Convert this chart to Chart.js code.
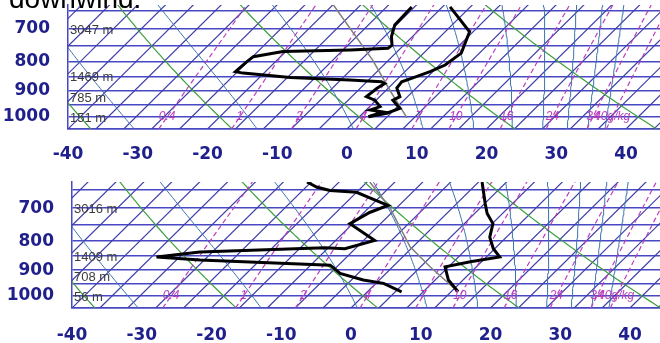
<!DOCTYPE html>
<html>
<head>
<meta charset="utf-8">
<script src="https://cdn.jsdelivr.net/npm/chart.js@4.4.1/dist/chart.umd.min.js"></script>
<style>
  body { margin: 0; background: #fff; width: 660px; height: 343px; overflow: hidden; position: relative; }
  .caption { position: absolute; left: 9px; top: -15px; font: 28px/28px "Liberation Sans", Arial, sans-serif; color: #000; z-index: 2; }
  canvas { position: absolute; left: 0; }
  #topChart { top: 0; }
  #bottomChart { top: 170px; }
</style>
</head>
<body>
<div class="caption">downwind.</div>
<canvas id="topChart" width="660" height="170"></canvas>
<canvas id="bottomChart" width="660" height="173"></canvas>
<script>
// Skew-T log-p diagrams, two soundings stacked

// axes
const T_TICKS = [-40, -30, -20, -10, 0, 10, 20, 30, 40];
const P_GRID = [650, 700, 750, 800, 850, 900, 950, 1000, 1050];
const P_LABELS = [700, 800, 900, 1000];

// background lines
const ISOTHERMS = [-56, -52, -48, -44, -40, -36, -32, -28, -24, -20, -16, -12, -8, -4, 0, 4, 8, 12, 16, 20, 24, 28, 32, 36, 40, 44];
const DRY_ADIABATS = [-40, -20, 0, 20, 40];                                   // theta, degC
const MOIST_ADIABATS = [240, 260, 280, 300, 320, 340, 360, 380, 400, 420];     // theta-e, K
const MIX_RATIOS = [0.4, 1, 2, 4, 7, 10, 16, 24, 34, 40];                      // g/kg
const MIX_LABELS = ['0.4', '1', '2', '4', '7', '10', '16', '24', '34', '40g/kg'];

// heights of standard levels
const HEIGHT_LEVELS = [700, 850, 925, 1000];
const TOP_HEIGHTS = ['3047 m', '1469 m', '785 m', '151 m'];
const BOTTOM_HEIGHTS = ['3016 m', '1409 m', '708 m', '56 m'];

// upper sounding
const TOP_TEMP_P = [640, 708, 741, 772, 810, 832, 855, 867, 889, 921, 934, 966, 985, 999];
const TOP_TEMP = [-2.9, 3.5, 4.5, 5.4, 4.8, 3.6, 1.9, 1.0, 1.2, 2.9, 2.4, 4.6, 3.4, 1.3];
const TOP_DEW_P = [640, 689, 722, 747, 757, 762, 767, 783, 799, 832, 837, 852, 861, 867, 873, 890, 921, 934, 959, 972, 980, 999];
const TOP_DEW = [-8.4, -8.2, -7.0, -5.7, -5.8, -11.0, -20.4, -23.9, -24.1, -24.3, -23.0, -15.6, -6.7, -1.9, -1.2, -1.6, -1.9, -0.2, 1.5, 0.6, 2.7, 1.3];
const TOP_PARCEL_P = [635, 794, 900, 1004];
const TOP_PARCEL = [-19.9, -6.3, 0.7, 7.0];

// lower sounding
const BOT_TEMP_P = [629, 651, 687, 715, 745, 787, 825, 853, 870, 888, 937, 983];
const BOT_TEMP = [0.5, 1.9, 4.1, 5.8, 8.1, 9.6, 11.8, 13.9, 10.4, 7.5, 9.9, 13.0];
const BOT_DEW_P = [629, 642, 651, 656, 692, 712, 745, 798, 825, 822, 836, 853, 864, 882, 912, 937, 950, 983];
const BOT_DEW = [-24.6, -22.5, -20.1, -16.0, -9.6, -11.2, -12.4, -6.4, -9.5, -12.5, -29.8, -35.3, -28.6, -9.2, -6.6, -2.3, 1.1, 4.9];
const BOT_PARCEL_P = [629, 697, 819, 888, 983];
const BOT_PARCEL = [-15.6, -9.1, -0.4, 5.35, 13.0];

const SKEW = 35.7;
const P_BASE = 1050;

const ISOBAR_COLOR = '#4848c4';
const ISOTHERM_COLOR = '#3e3eaa';
const DRY_COLOR = '#3f9f3f';
const MOIST_COLOR = '#3a72b0';
const MIX_COLOR = '#bb3fbb';
const TICK_COLOR = '#20208c';
const TICK_FONT = { family: '"DejaVu Sans", sans-serif', size: 17, weight: 'bold' };

function skewX(t, p) {
  return t + SKEW * Math.log(P_BASE / p);
}

function satVap(tc) {
  return 6.112 * Math.exp(17.67 * tc / (tc + 243.5));
}

function thetaE(tk, p) {
  const es = satVap(tk - 273.15);
  const rs = 0.622 * es / (p - es);
  return tk * Math.pow(1000 / p, 0.2857) * Math.exp(2.5e6 * rs / (1005 * tk));
}

function dewFromMix(r, p) {
  const e = r * p / (622 + r);
  const a = Math.log(e / 6.112);
  return 243.5 * a / (17.67 - a);
}

// pressure samples for curved background lines
const levels = [];
for (let p = 1050; p >= 580; p -= 10) levels.push(p);

function line(points, color, width, dash) {
  return {
    data: points,
    borderColor: color,
    borderWidth: width,
    borderDash: dash || [],
    pointRadius: 0,
    showLine: true,
    fill: false,
    tension: 0
  };
}

function profile(pres, temps) {
  return pres.map((p, i) => ({ x: skewX(temps[i], p), y: p }));
}

function backgroundLines() {
  const sets = [];
  MIX_RATIOS.forEach(r => {
    sets.push(line(levels.map(p => ({ x: skewX(dewFromMix(r, p), p), y: p })), MIX_COLOR, 1.2, [5, 3]));
  });
  MOIST_ADIABATS.forEach(te => {
    const pts = levels.map(p => {
      let lo = 150, hi = 318;
      for (let k = 0; k < 40; k++) {
        const mid = (lo + hi) / 2;
        if (thetaE(mid, p) > te) hi = mid; else lo = mid;
      }
      return { x: skewX(lo - 273.15, p), y: p };
    });
    sets.push(line(pts, MOIST_COLOR, 1));
  });
  DRY_ADIABATS.forEach(th => {
    const pts = levels.map(p => ({ x: skewX((th + 273.15) * Math.pow(p / 1000, 0.2857) - 273.15, p), y: p }));
    sets.push(line(pts, DRY_COLOR, 1.2));
  });
  ISOTHERMS.forEach(t => {
    sets.push(line([{ x: skewX(t, 1050), y: 1050 }, { x: skewX(t, 580), y: 580 }], ISOTHERM_COLOR, 1.2));
  });
  return sets;
}

// mixing ratio labels and level heights
const labelPlugin = {
  id: 'skewLabels',
  afterDatasetsDraw(chart, args, opts) {
    const { ctx, chartArea } = chart;
    const x = chart.scales.x, y = chart.scales.y;
    ctx.save();
    ctx.beginPath();
    ctx.rect(chartArea.left, chartArea.top, chartArea.width, chartArea.height);
    ctx.clip();
    ctx.font = 'italic 12px "Liberation Sans", Arial, sans-serif';
    ctx.fillStyle = MIX_COLOR;
    ctx.textAlign = 'center';
    ctx.textBaseline = 'middle';
    MIX_RATIOS.forEach((r, i) => {
      ctx.fillText(MIX_LABELS[i], x.getPixelForValue(skewX(dewFromMix(r, 1000), 1000)), y.getPixelForValue(1000));
    });
    ctx.font = '13px "Liberation Sans", Arial, sans-serif';
    ctx.fillStyle = '#3c3c3c';
    ctx.textAlign = 'left';
    HEIGHT_LEVELS.forEach((p, i) => {
      ctx.fillText(opts.heights[i], chartArea.left + 2, y.getPixelForValue(p) + 1);
    });
    ctx.restore();
  }
};

function noPad(s) {
  s.paddingTop = 0;
  s.paddingBottom = 0;
  s.paddingLeft = 0;
  s.paddingRight = 0;
}

function makeChart(id, cfg) {
  const datasets = [
    line(profile(cfg.tempP, cfg.temp), '#000', 3),
    line(profile(cfg.dewP, cfg.dew), '#000', 3),
    line(profile(cfg.parcelP, cfg.parcel), '#808080', 1.5)
  ].concat(backgroundLines());

  return new Chart(document.getElementById(id), {
    type: 'scatter',
    data: { datasets: datasets },
    plugins: [labelPlugin],
    options: {
      responsive: false,
      animation: false,
      layout: { padding: { top: cfg.padTop, right: 0, bottom: 0, left: 0 } },
      plugins: {
        legend: { display: false },
        tooltip: { enabled: false },
        skewLabels: { heights: cfg.heights }
      },
      scales: {
        x: {
          type: 'linear',
          min: -40,
          max: cfg.xMax,
          afterBuildTicks: s => { s.ticks = T_TICKS.map(v => ({ value: v })); },
          afterFit: s => { s.height = cfg.xAxisH; noPad(s); },
          grid: { display: false, drawTicks: false },
          border: { display: true, color: ISOBAR_COLOR, width: 1.5 },
          ticks: { padding: cfg.xPad, color: TICK_COLOR, font: TICK_FONT, maxRotation: 0, autoSkip: false }
        },
        y: {
          type: 'logarithmic',
          reverse: true,
          min: cfg.pTop,
          max: 1050,
          afterBuildTicks: s => { s.ticks = P_GRID.map(v => ({ value: v })); },
          afterFit: s => { s.width = cfg.yAxisW; noPad(s); },
          grid: { color: ISOBAR_COLOR, lineWidth: 1.6, drawTicks: false },
          border: { display: true, color: ISOBAR_COLOR, width: 1.5 },
          ticks: {
            padding: 18,
            color: TICK_COLOR,
            font: TICK_FONT,
            autoSkip: false,
            callback: v => P_LABELS.includes(v) ? String(v) : ''
          }
        }
      }
    }
  });
}

makeChart('topChart', {
  tempP: TOP_TEMP_P, temp: TOP_TEMP,
  dewP: TOP_DEW_P, dew: TOP_DEW,
  parcelP: TOP_PARCEL_P, parcel: TOP_PARCEL,
  heights: TOP_HEIGHTS,
  pTop: 635, xMax: 44.87,
  padTop: 5, xAxisH: 41, yAxisW: 68, xPad: 15
});

makeChart('bottomChart', {
  tempP: BOT_TEMP_P, temp: BOT_TEMP,
  dewP: BOT_DEW_P, dew: BOT_DEW,
  parcelP: BOT_PARCEL_P, parcel: BOT_PARCEL,
  heights: BOTTOM_HEIGHTS,
  pTop: 629, xMax: 44.3,
  padTop: 12, xAxisH: 35, yAxisW: 72, xPad: 17
});
</script>
</body>
</html>
